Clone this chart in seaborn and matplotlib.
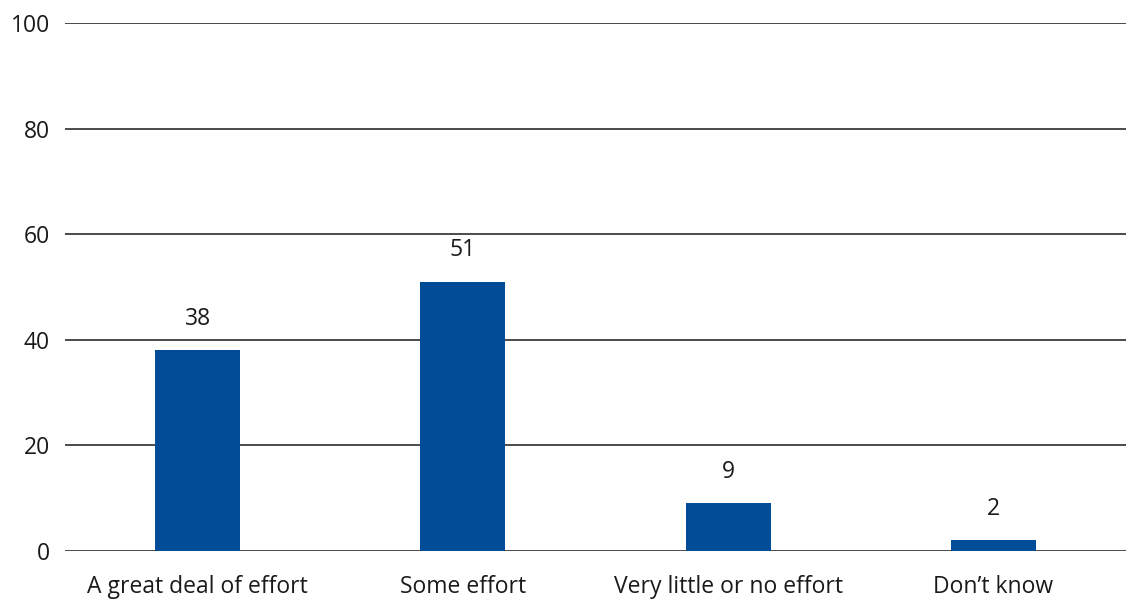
import matplotlib
matplotlib.use('Agg')
import matplotlib.pyplot as plt
import seaborn as sns
import pandas as pd

# data
categories = ['A great deal of effort', 'Some effort', 'Very little or no effort', 'Don\u2019t know']
values = [38, 51, 9, 2]
bar_color = '#004C97'

df = pd.DataFrame({'category': categories, 'value': values})

sns.set_theme(style='white')
plt.rcParams['font.family'] = ['Open Sans', 'DejaVu Sans']

fig = plt.figure(figsize=(11.26, 6.01), dpi=100)
ax = fig.add_axes([0.0577, 0.0832, 0.9423, 0.8785])

# bars drawn over the gridlines
sns.barplot(data=df, x='category', y='value', color=bar_color, width=0.32,
            saturation=1, linewidth=0, edgecolor='none', ax=ax, zorder=3)

ax.set_ylim(0, 100)
ax.set_yticks(range(0, 101, 20))
ax.yaxis.grid(True, color='#1a1a1a', linewidth=1.1, zorder=1)
ax.set_axisbelow(True)
for s in ax.spines.values():
    s.set_visible(False)
ax.set_xlabel('')
ax.set_ylabel('')
ax.tick_params(axis='both', length=0, labelsize=16.5, labelcolor='#1a1a1a')
ax.tick_params(axis='y', pad=11)
ax.tick_params(axis='x', pad=17)

for i, v in enumerate(values):
    ax.text(i, v + 6.0, str(v), ha='center', va='center', fontsize=16.5, color='#1a1a1a')

fig.savefig('out.png', dpi=100)
